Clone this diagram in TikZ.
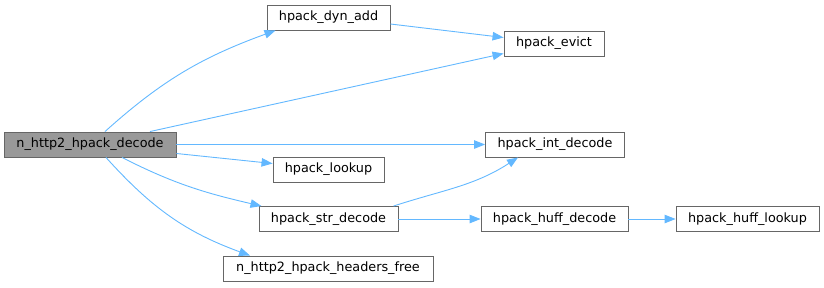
\documentclass[tikz,border=0pt]{standalone}
\usepackage{fontspec}
\setmainfont{DejaVu Sans}
\usetikzlibrary{arrows.meta}
\definecolor{edgeblue}{HTML}{63B8FF}
\definecolor{boxgray}{HTML}{666666}
\definecolor{rootgray}{HTML}{999999}

\begin{document}
\begin{tikzpicture}[x=1pt,y=1pt,
    fn/.style={draw=boxgray, line width=0.9pt, fill=white, inner sep=0pt,
      minimum height=25pt, font=\fontsize{12.8}{14}\selectfont},
    root/.style={fn, fill=rootgray},
    call/.style={draw=edgeblue, line width=0.9pt,
      -{Triangle[length=11pt,width=8.5pt]}}]
      \useasboundingbox (0,0) rectangle (824,-287);

      % functions
      \node[root, minimum width=172pt] (decode) at (90,-144.5) {n\_http2\_hpack\_decode};
      \node[fn, minimum width=123pt] (dynadd) at (328.5,-17.5) {hpack\_dyn\_add};
      \node[fn, minimum width=100pt] (evict) at (554,-43.5) {hpack\_evict};
      \node[fn, minimum width=139pt] (intdec) at (555,-144.5) {hpack\_int\_decode};
      \node[fn, minimum width=111pt] (lookup) at (328.5,-169.5) {hpack\_lookup};
      \node[fn, minimum width=139pt] (strdec) at (328.5,-219) {hpack\_str\_decode};
      \node[fn, minimum width=147pt] (huffdec) at (554.5,-219) {hpack\_huff\_decode};
      \node[fn, minimum width=143pt] (hufflook) at (747.5,-219) {hpack\_huff\_lookup};
      \node[fn, minimum width=210pt] (hdrfree) at (328,-268.5) {n\_http2\_hpack\_headers\_free};

      % calls from n_http2_hpack_decode
      \draw[call] ([xshift=15pt]decode.north) to[out=42,in=200] ([xshift=-53pt]dynadd.south);
      \draw[call] ([xshift=60pt]decode.north) -- ([yshift=-10pt]evict.west);
      \draw[call] (decode.east) -- (intdec.west);
      \draw[call] ([yshift=-9pt]decode.east) -- ([yshift=6pt]lookup.west);
      \draw[call] ([xshift=32pt]decode.south) to[out=-27,in=167] ([xshift=-67pt]strdec.north);
      \draw[call] ([xshift=16pt]decode.south) to[out=-48,in=160] ([xshift=-78pt]hdrfree.north);

      % other calls
      \draw[call] ([yshift=-6.5pt]dynadd.east) -- ([yshift=6pt]evict.west);
      \draw[call] ([xshift=65pt]strdec.north) to[out=18,in=213] ([xshift=-37pt]intdec.south);
      \draw[call] (strdec.east) -- (huffdec.west);
      \draw[call] (huffdec.east) -- (hufflook.west);
    \end{tikzpicture}
\end{document}
